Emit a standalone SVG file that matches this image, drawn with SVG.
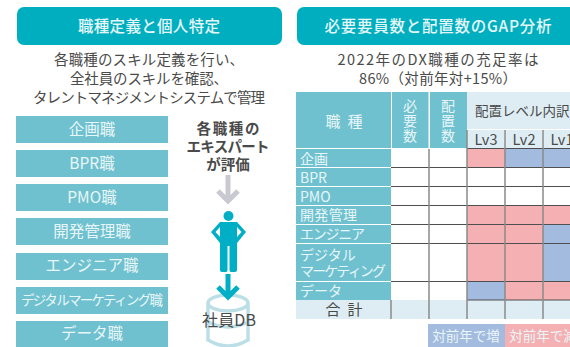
<svg xmlns="http://www.w3.org/2000/svg" width="570" height="347" viewBox="0 0 570 347">
<style>
text{font-family:"Noto Sans CJK JP","Noto Sans",sans-serif;text-anchor:middle}
.hd{fill:#00afbf}
.hdt{fill:#e6f6f8;font-size:15.500px;font-weight:500}
.sub{fill:#4a4a4a;font-size:14.500px}
.job{fill:#6fc1cf}
.jobt{fill:#e9f6f8;font-size:15.500px}
.vt{fill:#e9f6f8;font-size:14px;writing-mode:vertical-rl;letter-spacing:1px}
.rl{fill:#e6f6f8;font-size:14px;text-anchor:start}
.pale{fill:#deedf3}
.pk{fill:#f4b0b3}
.bl{fill:#a2bbdf}
.grid{stroke:#4f4f4f;stroke-width:1;fill:none}
.vg{stroke:#8a8a8a;stroke-width:1.500;fill:none}
.dk{fill:#4a4a4a;font-size:14.500px}
</style>
<g id="left-header"><rect class="hd" x="17" y="7" width="265" height="38" rx="7"/><text class="hdt" x="149" y="32" textLength="142">職種定義と個人特定</text></g>
<g id="left-caption">
<text class="sub" x="149" y="65" textLength="190">各職種のスキル定義を行い、</text>
<text class="sub" x="149" y="84" textLength="158">全社員のスキルを確認、</text>
<text class="sub" x="149" y="103" textLength="232">タレントマネジメントシステムで管理</text>
</g>
<g id="job-1"><rect class="job" x="16" y="116" width="152" height="27"/><text class="jobt" x="92" y="135">企画職</text></g>
<g id="job-2"><rect class="job" x="16" y="150" width="152" height="27"/><text class="jobt" x="92" y="169">BPR職</text></g>
<g id="job-3"><rect class="job" x="16" y="184" width="152" height="27"/><text class="jobt" x="92" y="203">PMO職</text></g>
<g id="job-4"><rect class="job" x="16" y="218" width="152" height="27"/><text class="jobt" x="92" y="237">開発管理職</text></g>
<g id="job-5"><rect class="job" x="16" y="253" width="152" height="27"/><text class="jobt" x="92" y="271">エンジニア職</text></g>
<g id="job-6"><rect class="job" x="16" y="287" width="152" height="27"/><text class="jobt" x="92" y="305" style="font-size:13.500px" textLength="142">デジタルマーケティング職</text></g>
<g id="job-7"><rect class="job" x="16" y="321" width="152" height="27"/><text class="jobt" x="92" y="339">データ職</text></g>
<g id="experts"><text class="dk" x="228" y="134" font-weight="700" textLength="63">各職種の</text><text class="dk" x="228" y="152" font-weight="700" textLength="83">エキスパート</text><text class="dk" x="228" y="170" font-weight="700">が評価</text></g>
<g id="person" fill="#00afc5">
<circle cx="228.500" cy="216" r="5"/>
<path d="M220 222H237L246 232L237 243V270Q237 272 235 272H231Q229.500 272 229.500 270V246H227.500V270Q227.500 272 226 272H222Q220 272 220 270V243L211 232ZM220 227L215.500 232L220 237ZM237 227V237L241.500 232Z" fill-rule="evenodd"/>
</g>
<g id="db" fill="none" stroke="#bcdfe7" stroke-width="3.500">
<path d="M208 303V340Q228 352 248 340V303"/>
<ellipse cx="228" cy="303" rx="20" ry="8"/>
<path d="M208 322Q228 332 248 322"/>
<text x="229" y="326" textLength="54" style="font-size:16px;fill:#4a4a4a;stroke:none">社員DB</text>
</g>
<g id="connectors">
<path d="M228 175V201M218 191L228 201L238 191" fill="none" stroke="#c9c9d2" stroke-width="5"/>
<path d="M228 274V298M218 287L228 297L238 287" fill="none" stroke="#00afc5" stroke-width="5"/>
</g>
<g id="right-header"><rect class="hd" x="297" y="7" width="285" height="38" rx="7"/><text class="hdt" x="438" y="32" textLength="227">必要要員数と配置数のGAP分析</text></g>
<g id="right-caption">
<text class="sub" x="438" y="65" textLength="201">2022年のDX職種の充足率は</text>
<text class="sub" x="438" y="84" textLength="158">86%（対前年対+15%）</text>
</g>
<g id="table">
<rect fill="#fff" x="391" y="149" width="179" height="151"/>
<g class="job">
<rect x="296" y="92" width="95" height="56"/><rect x="392" y="92" width="36.500" height="56"/><rect x="430" y="92" width="37" height="56"/>
<rect x="296" y="149" width="95" height="18"/><rect x="296" y="168" width="95" height="18"/><rect x="296" y="187" width="95" height="18"/><rect x="296" y="206" width="95" height="18"/><rect x="296" y="225" width="95" height="18"/><rect x="296" y="244" width="95" height="37"/><rect x="296" y="282" width="95" height="18"/>
</g>
<rect class="pale" x="467" y="92" width="103" height="37"/>
<rect class="pale" x="467" y="130" width="37" height="18"/><rect class="pale" x="505" y="130" width="37" height="18"/><rect class="pale" x="543" y="130" width="27" height="18"/>
<rect class="pale" x="296" y="300" width="274" height="19"/>
<rect class="pk" x="467" y="149" width="38" height="18"/><rect class="bl" x="505" y="149" width="65" height="18"/>
<rect class="pk" x="467" y="205" width="103" height="19"/>
<rect class="pk" x="467" y="224" width="76" height="57"/><rect class="bl" x="543" y="224" width="27" height="57"/>
<rect class="bl" x="467" y="281" width="38" height="19"/><rect class="pk" x="505" y="281" width="65" height="19"/>
<path class="grid" d="M391 167.500H570M391 186.500H570M391 205.500H570M391 224.500H570M391 243.500H570M391 281.500H570M467 300H570M467 148.500H570"/>
<path class="vg" d="M429 149V319M467 130V319M505 130V319M543 130V319M391 300V319"/>
<text class="jobt" x="344" y="127" textLength="37" style="font-size:15px">職 種</text>
<text class="vt" x="410" y="121">必要数</text><text class="vt" x="448" y="121">配置数</text>
<text class="dk" x="475" y="116" style="text-anchor:start;font-size:13.500px">配置レベル内訳</text>
<text class="dk" x="486" y="145">Lv3</text><text class="dk" x="524" y="145">Lv2</text><text class="dk" x="562" y="145">Lv1</text>
<text class="rl" x="300" y="164">企画</text><text class="rl" x="300" y="183">BPR</text><text class="rl" x="300" y="202">PMO</text><text class="rl" x="300" y="220" textLength="57">開発管理</text><text class="rl" x="300" y="239" textLength="65">エンジニア</text><text class="rl" x="300" y="260">デジタル<tspan x="300" y="276" textLength="86">マーケティング</tspan></text><text class="rl" x="300" y="296">データ</text>
<text class="dk" x="344" y="315" textLength="37" style="font-size:15px">合 計</text>
</g>
<g id="legend">
<rect class="bl" x="428" y="324" width="77" height="23"/><text class="jobt" x="466" y="341" style="font-size:13.500px">対前年で増</text>
<rect class="pk" x="505" y="324" width="65" height="23"/><text class="jobt" x="543" y="341" style="font-size:13.500px">対前年で減</text>
</g>
</svg>
